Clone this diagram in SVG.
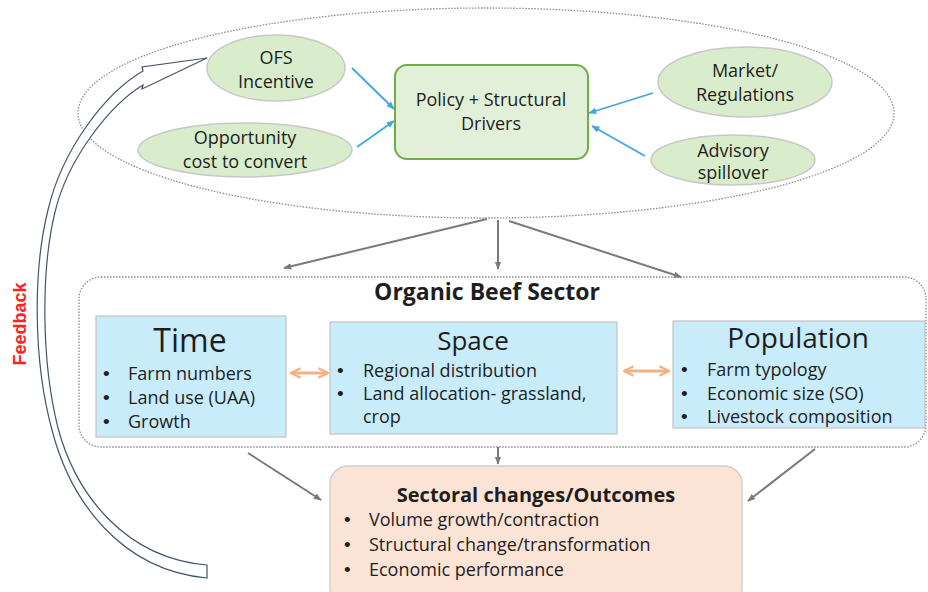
<svg xmlns="http://www.w3.org/2000/svg" width="928" height="592" viewBox="0 0 928 592">
<defs>
<style>
text{font-family:"Open Sans","Liberation Sans",sans-serif;fill:#1e1e1e}
.ell{fill:#d9edcc;stroke:#c8c8c8;stroke-width:1.5}
.lbl{font-size:18px;text-anchor:middle}
.blue{fill:#c9ecfa;stroke:#c4c4c4;stroke-width:1.2}
.bt{font-size:18px}
.bu{font-family:"Liberation Sans",sans-serif;font-size:19px}
.dot{fill:none;stroke:#8a8a8a;stroke-width:1.3;stroke-dasharray:1.5 1.5}
.ba{stroke:#3fa7e0;stroke-width:1.8;fill:none;marker-end:url(#mb)}
.ga{stroke:#7a7a7a;stroke-width:2;fill:none;marker-end:url(#mg)}
.oa{stroke:#f4b183;stroke-width:3;fill:none;marker-start:url(#mo);marker-end:url(#mo)}
</style>
<marker id="mb" viewBox="0 0 10 10" refX="9" refY="5" markerWidth="4.5" markerHeight="4.5" orient="auto" markerUnits="strokeWidth"><path d="M0,1 L10,5 L0,9 Z" fill="#3fa7e0"/></marker>
<marker id="mg" viewBox="0 0 10 10" refX="9" refY="5" markerWidth="4" markerHeight="4" orient="auto" markerUnits="strokeWidth"><path d="M0,1 L10,5 L0,9 Z" fill="#7a7a7a"/></marker>
<marker id="mo" viewBox="0 0 10 10" refX="9" refY="5" markerWidth="4" markerHeight="4" orient="auto-start-reverse" markerUnits="strokeWidth"><path d="M1,1 L9,5 L1,9" fill="none" stroke="#f4b183" stroke-width="2"/></marker>
</defs>

<g id="drivers-boundary"><ellipse cx="486" cy="113" rx="408" ry="105" class="dot"/></g>
<g id="sector-boundary"><rect x="79" y="277" width="847" height="170" rx="22" class="dot"/></g>

<g id="feedback">
<path d="M143,71 C105,93 62,150 48,210 C33,270 33,360 52,430 C70,500 120,570 207,578 L207,565 C125,558 76,495 58,428 C41,360 41,270 55,212 C68,158 110,105 143,85 L142,89 L207,58 L142,67 Z" fill="#ffffff" stroke="#44546a" stroke-width="1.2" stroke-linejoin="miter"/>
<text x="0" y="0" transform="translate(26,324) rotate(-90)" text-anchor="middle" style="font-family:'Liberation Sans',sans-serif;font-size:18px;font-weight:bold;fill:#ff2020">Feedback</text>
</g>

<g id="connectors">
<line x1="352" y1="68" x2="394" y2="109" class="ba"/>
<line x1="357" y1="147" x2="394" y2="121" class="ba"/>
<line x1="653" y1="93" x2="589" y2="113" class="ba"/>
<line x1="645" y1="156" x2="592" y2="126" class="ba"/>
<line x1="487" y1="219" x2="284" y2="268" class="ga"/>
<line x1="498" y1="220" x2="498" y2="269" class="ga"/>
<line x1="509" y1="221" x2="681" y2="277" class="ga"/>
<line x1="291" y1="373" x2="328" y2="373" class="oa"/>
<line x1="624" y1="371" x2="669" y2="371" class="oa"/>
<line x1="248" y1="453" x2="321" y2="500" class="ga"/>
<line x1="498" y1="447" x2="498" y2="464" class="ga"/>
<line x1="815" y1="449" x2="748" y2="501" class="ga"/>
</g>

<g id="ofs-incentive">
<ellipse cx="276" cy="68" rx="69" ry="33" class="ell"/>
<text class="lbl" x="276" y="64">OFS</text>
<text class="lbl" x="276" y="88">Incentive</text>
</g>
<g id="opportunity-cost">
<ellipse cx="245" cy="150" rx="107" ry="27" class="ell"/>
<text class="lbl" x="245" y="144">Opportunity</text>
<text class="lbl" x="245" y="168">cost to convert</text>
</g>
<g id="market-regulations">
<ellipse cx="745" cy="82" rx="87" ry="35" class="ell"/>
<text class="lbl" x="745" y="77">Market/</text>
<text class="lbl" x="745" y="101">Regulations</text>
</g>
<g id="advisory-spillover">
<ellipse cx="733" cy="160" rx="82" ry="25" class="ell"/>
<text class="lbl" x="733" y="157">Advisory</text>
<text class="lbl" x="733" y="179">spillover</text>
</g>
<g id="policy-drivers">
<rect x="395" y="65" width="193" height="94" rx="12" fill="#e2f0d9" stroke="#70ad47" stroke-width="2"/>
<text class="lbl" x="491" y="106">Policy + Structural</text>
<text class="lbl" x="491" y="130">Drivers</text>
</g>

<g id="organic-beef-sector">
<text x="487" y="300" text-anchor="middle" style="font-size:23px;font-weight:bold">Organic Beef Sector</text>
</g>

<g id="time">
<rect x="96" y="316" width="190" height="121" class="blue"/>
<text x="190" y="352" text-anchor="middle" style="font-size:32px">Time</text>
<text class="bu" x="103" y="380">•</text><text class="bt" x="128" y="380">Farm numbers</text>
<text class="bu" x="103" y="404">•</text><text class="bt" x="128" y="404">Land use (UAA)</text>
<text class="bu" x="103" y="428">•</text><text class="bt" x="128" y="428">Growth</text>
</g>

<g id="space">
<rect x="330" y="322" width="287" height="112" class="blue"/>
<text x="473" y="350" text-anchor="middle" style="font-size:26px">Space</text>
<text class="bu" x="337" y="377">•</text><text class="bt" x="363" y="377">Regional distribution</text>
<text class="bu" x="337" y="400">•</text><text class="bt" x="363" y="400">Land allocation- grassland,</text>
<text class="bt" x="363" y="423">crop</text>
</g>

<g id="population">
<rect x="673" y="321" width="252" height="107" class="blue"/>
<text x="798" y="348" text-anchor="middle" style="font-size:28px">Population</text>
<text class="bu" x="681" y="376">•</text><text class="bt" x="707" y="376">Farm typology</text>
<text class="bu" x="681" y="400">•</text><text class="bt" x="707" y="400">Economic size (SO)</text>
<text class="bu" x="681" y="423">•</text><text class="bt" x="707" y="423">Livestock composition</text>
</g>

<g id="outcomes">
<rect x="330" y="466" width="412" height="140" rx="18" fill="#fbe3d6" stroke="#cfcfcf" stroke-width="1.5"/>
<text x="536" y="502" text-anchor="middle" style="font-size:20px;font-weight:bold">Sectoral changes/Outcomes</text>
<text class="bu" x="344" y="526">•</text><text class="bt" x="369" y="526">Volume growth/contraction</text>
<text class="bu" x="344" y="551">•</text><text class="bt" x="369" y="551">Structural change/transformation</text>
<text class="bu" x="344" y="576">•</text><text class="bt" x="369" y="576">Economic performance</text>
</g>
</svg>
